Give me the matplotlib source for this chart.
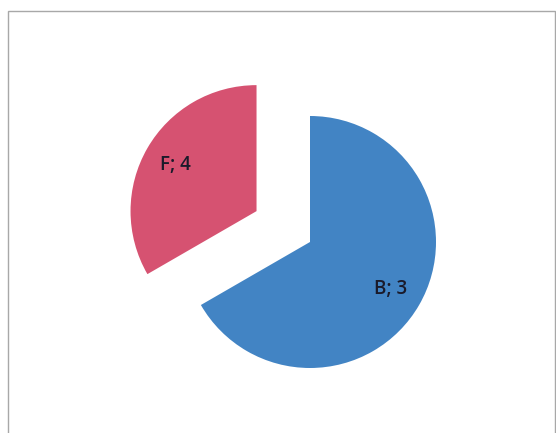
import matplotlib.pyplot as plt
from matplotlib.patches import Rectangle

categories = ["B", "F"]
label_values = [3, 4]
slice_sizes = [2, 1]
colors = ["#4284c4", "#d65271"]
explode = [0, 0.49]


def main() -> None:
    fig = plt.figure(figsize=(5.56, 4.33), dpi=100)
    W, H = 556, 433
    cx, cy, r = 310, 242, 126
    half = 1.6 * r
    ax = fig.add_axes([(cx - half) / W, (H - cy - half) / H, 2 * half / W, 2 * half / H])

    labels = [f"{c}; {v}" for c, v in zip(categories, label_values)]
    wedges, texts = ax.pie(
        slice_sizes,
        labels=labels,
        colors=colors,
        explode=explode,
        startangle=90,
        counterclock=False,
        labeldistance=0.74,
        textprops={"fontsize": 13.5, "color": "#1a1a2a", "family": "Open Sans",
                   "fontweight": "semibold"},
    )
    for t in texts:
        t.set_ha("center")
        t.set_va("center")
    ax.set_xlim(-1.6, 1.6)
    ax.set_ylim(-1.6, 1.6)

    # chart frame
    fig.patches.append(Rectangle((8 / W, -0.05), (W - 9) / W, 1.05 - 11 / H,
                                 transform=fig.transFigure, fill=False,
                                 edgecolor="#a8a8a8", linewidth=1))
    fig.savefig("out.png", dpi=100)


if __name__ == "__main__":
    main()
